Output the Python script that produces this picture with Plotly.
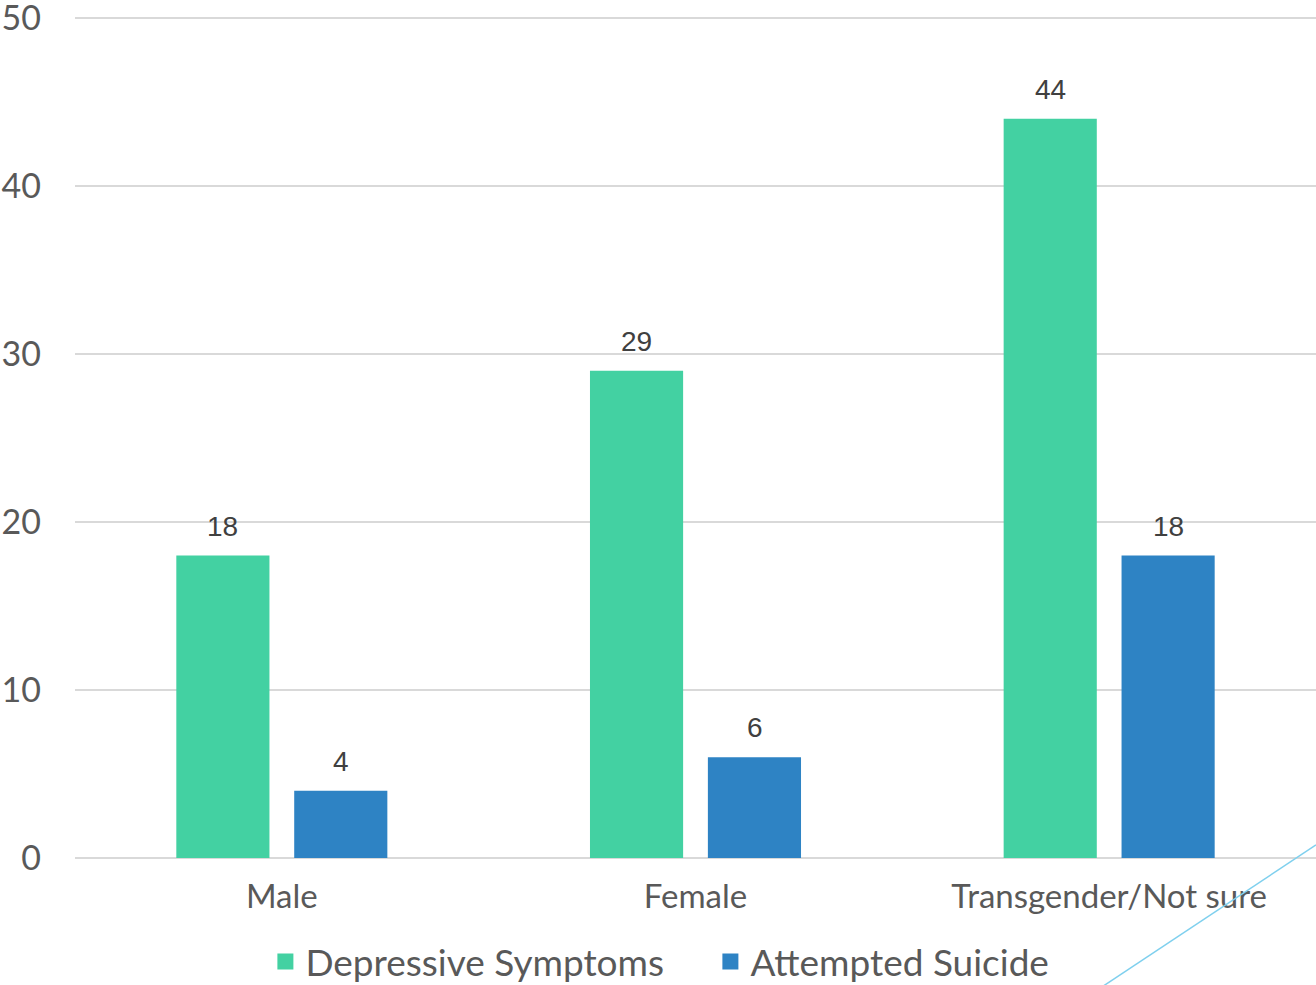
import plotly.graph_objects as go

categories = ["Male", "Female", "Transgender/Not sure"]
depressive = [18, 29, 44]
suicide = [4, 6, 18]
y_ticks = [0, 10, 20, 30, 40, 50]
series_names = ["Depressive Symptoms", "Attempted Suicide"]

GREEN = "#43D1A2"
BLUE = "#2E83C4"
FONT = "Lato"
LABEL_FONT = dict(family="Liberation Sans", size=28, color="#404040")

fig = go.Figure()
for name, vals, col in [(series_names[0], depressive, GREEN), (series_names[1], suicide, BLUE)]:
    fig.add_trace(go.Bar(
        x=categories, y=vals, name=name, showlegend=False,
        marker=dict(color=col, line=dict(width=0)),
    ))
# legend entries with larger square symbols
for name, col in [(series_names[0], GREEN), (series_names[1], BLUE)]:
    fig.add_trace(go.Scatter(
        x=[None], y=[None], mode="markers", name=name,
        marker=dict(symbol="square", size=20, color=col),
    ))

# data labels
annotations = []
for vals, dx in [(depressive, -59), (suicide, 59)]:
    for c, v in zip(categories, vals):
        annotations.append(dict(x=c, y=v, text=str(v), showarrow=False,
                                xanchor="center", yanchor="bottom",
                                xshift=dx, yshift=12, font=LABEL_FONT))

fig.update_layout(
    width=1316, height=985,
    margin=dict(l=75, r=0, t=16, b=127, autoexpand=False),
    paper_bgcolor="white", plot_bgcolor="white",
    barmode="group", bargap=0.43, bargroupgap=0.21,
    font=dict(family=FONT, color="#595959"),
    showlegend=True,
    legend=dict(orientation="h", x=0.512, xanchor="center", y=-0.0866, yanchor="top",
                font=dict(family=FONT, size=37, color="#595959"),
                bgcolor="rgba(0,0,0,0)",
                itemwidth=30, traceorder="normal", tracegroupgap=0,
                entrywidth=400, entrywidthmode="pixels"),
    xaxis=dict(showgrid=False, showline=False, ticks="", automargin=False,
               ticklabelstandoff=16,
               tickfont=dict(family=FONT, size=33, color="#595959")),
    yaxis=dict(range=[0, 50.12], tickvals=y_ticks, showgrid=True, gridcolor="#D9D9D9",
               gridwidth=2, zeroline=True, zerolinecolor="#D9D9D9", zerolinewidth=2,
               showline=False, ticks="", ticklabelstandoff=33, automargin=False,
               ticklabeloverflow="allow",
               tickfont=dict(family=FONT, size=34, color="#595959")),
    annotations=annotations,
    shapes=[dict(type="line", xref="paper", yref="paper",
                 x0=0.8215, y0=-0.159, x1=1.0, y1=0.0155,
                 line=dict(color="#7FD0EE", width=1.5))],
)

fig.write_html("out.html", config={"displayModeBar": False},
               post_script="document.body.style.margin='0';")
